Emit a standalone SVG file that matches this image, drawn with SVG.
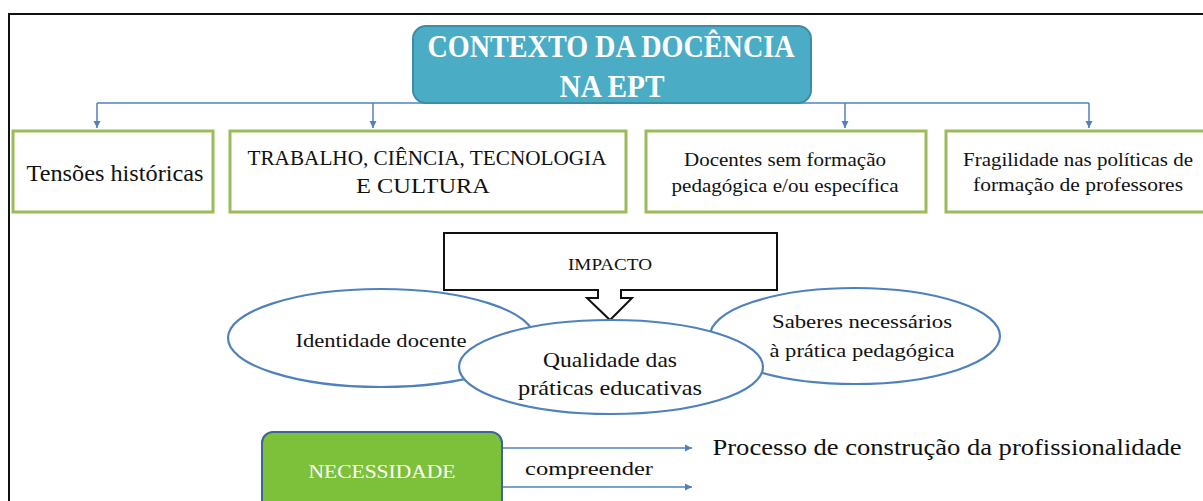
<svg xmlns="http://www.w3.org/2000/svg" width="1203" height="501" viewBox="0 0 1203 501">
<style>
.t{font-family:'Liberation Serif','DejaVu Serif',serif;fill:#111;text-anchor:middle}
.w{fill:#fff}
.gbox{fill:#fff;stroke:#9BBB59;stroke-width:3}
.ell{fill:#fff;stroke:#4F81BD;stroke-width:2.2}
.conn{fill:none;stroke:#4F81BD;stroke-width:1.5}
</style>
<defs>
<marker id="ah" viewBox="0 0 10 10" refX="10" refY="5" markerWidth="5" markerHeight="5" orient="auto">
<path d="M0,0 L10,5 L0,10 z" fill="#4F81BD"/>
</marker>
</defs>
<rect x="0" y="0" width="1203" height="501" fill="#fff"/>
<path d="M9,501 V14 H1203" fill="none" stroke="#111" stroke-width="2"/>
<g id="connectors">
<path class="conn" d="M97,103 H1089"/>
<path class="conn" d="M97,103 V128" marker-end="url(#ah)"/>
<path class="conn" d="M373,103 V128" marker-end="url(#ah)"/>
<path class="conn" d="M845,103 V128" marker-end="url(#ah)"/>
<path class="conn" d="M1089,103 V128" marker-end="url(#ah)"/>
<path class="conn" d="M502,448 H692" marker-end="url(#ah)"/>
<path class="conn" d="M502,487 H692" marker-end="url(#ah)"/>
</g>
<g id="title">
<rect x="413" y="26" width="398" height="77" rx="13" fill="#4BACC6" stroke="#3C8EA8" stroke-width="2"/>
<text class="t w" x="611" y="57" font-size="32" font-weight="bold" textLength="367" lengthAdjust="spacingAndGlyphs">CONTEXTO DA DOCÊNCIA</text>
<text class="t w" x="612" y="97" font-size="32" font-weight="bold" textLength="105" lengthAdjust="spacingAndGlyphs">NA EPT</text>
</g>
<g id="box1">
<rect class="gbox" x="13" y="131" width="200" height="81"/>
<text class="t" x="115" y="181" font-size="23" textLength="177" lengthAdjust="spacingAndGlyphs">Tensões históricas</text>
</g>
<g id="box2">
<rect class="gbox" x="230" y="131" width="396" height="81"/>
<text class="t" x="427" y="165" font-size="22" textLength="359" lengthAdjust="spacingAndGlyphs">TRABALHO, CIÊNCIA, TECNOLOGIA</text>
<text class="t" x="423" y="193" font-size="22" textLength="134" lengthAdjust="spacingAndGlyphs">E CULTURA</text>
</g>
<g id="box3">
<rect class="gbox" x="646" y="131" width="280" height="81"/>
<text class="t" x="785" y="166" font-size="18" textLength="202" lengthAdjust="spacingAndGlyphs">Docentes sem formação</text>
<text class="t" x="785" y="192" font-size="18" textLength="227" lengthAdjust="spacingAndGlyphs">pedagógica e/ou específica</text>
</g>
<g id="box4">
<rect class="gbox" x="946" y="131" width="262" height="81"/>
<text class="t" x="1078" y="166" font-size="18" textLength="230" lengthAdjust="spacingAndGlyphs">Fragilidade nas políticas de</text>
<text class="t" x="1078" y="191" font-size="18" textLength="210" lengthAdjust="spacingAndGlyphs">formação de professores</text>
</g>
<g id="impacto">
<path d="M444,233 H777 V290 H621 V298 H632 L610,320 L587,298 H598 V290 H444 Z" fill="#fff" stroke="#111" stroke-width="2"/>
<text class="t" x="610" y="270" font-size="17" textLength="84" lengthAdjust="spacingAndGlyphs">IMPACTO</text>
</g>
<g id="identidade">
<ellipse class="ell" cx="381" cy="338" rx="153" ry="49"/>
</g>
<g id="saberes">
<ellipse class="ell" cx="855" cy="336" rx="145" ry="48"/>
<text class="t" x="862" y="328" font-size="19" textLength="180" lengthAdjust="spacingAndGlyphs">Saberes necessários</text>
<text class="t" x="862" y="357" font-size="19" textLength="185" lengthAdjust="spacingAndGlyphs">à prática pedagógica</text>
</g>
<g id="qualidade">
<ellipse class="ell" cx="611" cy="367" rx="152" ry="47"/>
<text class="t" x="610" y="367" font-size="21" textLength="134" lengthAdjust="spacingAndGlyphs">Qualidade das</text>
<text class="t" x="610" y="395" font-size="21" textLength="184" lengthAdjust="spacingAndGlyphs">práticas educativas</text>
</g>
<text class="t" x="381" y="347" font-size="19" textLength="171" lengthAdjust="spacingAndGlyphs">Identidade docente</text>
<g id="necessidade">
<rect x="262" y="432" width="240" height="80" rx="11" fill="#7DC13A" stroke="#3F6593" stroke-width="2"/>
<text class="t w" x="382" y="478" font-size="18" textLength="147" lengthAdjust="spacingAndGlyphs">NECESSIDADE</text>
</g>
<text class="t" x="589" y="475" font-size="19" textLength="128" lengthAdjust="spacingAndGlyphs">compreender</text>
<g id="processo">
<text class="t" x="947" y="455" font-size="24" textLength="469" lengthAdjust="spacingAndGlyphs">Processo de construção da profissionalidade</text>
</g>
</svg>
